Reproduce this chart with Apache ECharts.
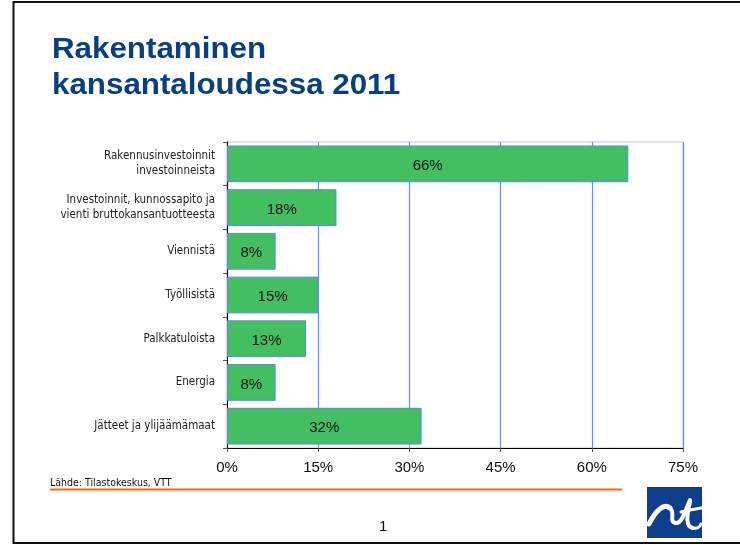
<html>
<head>
<meta charset="UTF-8">
<title>Rakentaminen kansantaloudessa 2011</title>
<script src="https://cdn.jsdelivr.net/npm/echarts@6/dist/echarts.min.js"></script>
<style>
    body{ margin:0; background:#fff; }
    #main{ width:740px; height:545px; }
</style>
</head>
<body>
<div id="main"></div>
<script>
// data
var categories = ['Rakennusinvestoinnit\ninvestoinneista', 'Investoinnit, kunnossapito ja\nvienti bruttokansantuotteesta',
    'Viennistä', 'Työllisistä', 'Palkkatuloista', 'Energia', 'Jätteet ja ylijäämämaat'];
var values = [66, 18, 8, 15, 13, 8, 32];
var xTicks = [0, 15, 30, 45, 60, 75];

var myChart = echarts.init(document.getElementById('main'));

// white strokes of the logo
function curve(x1, y1, c1x, c1y, c2x, c2y, x2, y2, w) {
    return { type: 'bezierCurve',
        shape: { x1: x1, y1: y1, cpx1: c1x, cpy1: c1y, cpx2: c2x, cpy2: c2y, x2: x2, y2: y2 },
        style: { fill: null, stroke: '#fff', lineWidth: w, lineCap: 'round' } };
}

var option = {
    animation: false,
    backgroundColor: '#fff',
    grid: {
        left: 227, right: 57, top: 142, bottom: 97,
        show: true, borderColor: '#c4c4c8', borderWidth: 1
    },
    xAxis: {
        type: 'value',
        min: xTicks[0], max: xTicks[xTicks.length - 1], interval: 15,
        axisLine: { show: true, lineStyle: { color: '#000', width: 1 } },
        axisTick: { show: true, length: 4, lineStyle: { color: '#555' } },
        axisLabel: { formatter: '{value}%', color: '#111', fontSize: 15, fontFamily: 'Liberation Sans', margin: 12 },
        splitLine: { show: true, lineStyle: { color: '#6a8cf0', width: 1, shadowColor: '#b9c9f7', shadowBlur: 3 } }
    },
    yAxis: {
        type: 'category',
        inverse: true,
        data: categories,
        axisLine: { show: true, lineStyle: { color: '#000', width: 1 } },
        axisTick: { show: true, length: 4, lineStyle: { color: '#555' } },
        axisLabel: { color: '#222', fontSize: 11.5, fontFamily: 'DejaVu Sans Condensed', lineHeight: 15, margin: 12 }
    },
    series: [{
        type: 'bar',
        data: values,
        barCategoryGap: '16%',
        itemStyle: { color: '#43bf62', borderColor: '#5a88d8', borderWidth: 1 },
        label: {
            show: true, position: 'inside', formatter: '{c}%', offset: [0, 2],
            color: '#111', fontSize: 15, fontFamily: 'Liberation Sans'
        }
    }],
    graphic: [
        // slide frame
        { type: 'polyline', shape: { points: [[745, 2], [13.5, 2], [13.5, 543], [745, 543]] },
          style: { fill: null, stroke: '#111', lineWidth: 2 } },
        { type: 'text', x: 52, y: 32, scaleX: 1.08,
          style: { text: 'Rakentaminen\nkansantaloudessa 2011', fill: '#073f85',
                   font: 'bold 29px "Liberation Sans"', lineHeight: 36 } },
        { type: 'text', x: 50, y: 478,
          style: { text: 'Lähde: Tilastokeskus, VTT', fill: '#111', font: '10.5px "DejaVu Sans Condensed"' } },
        { type: 'line', shape: { x1: 50, y1: 489.5, x2: 622, y2: 489.5 },
          style: { stroke: '#ff6600', lineWidth: 2 } },
        { type: 'text', x: 379, y: 519,
          style: { text: '1', fill: '#111', font: '15px "Liberation Sans"' } },
        // logo
        { type: 'rect', shape: { x: 647, y: 487, width: 55, height: 51 }, style: { fill: '#0b3f8c' } },
        curve(649, 524, 656, 510, 664, 503, 670, 508, 5),
        curve(670, 508, 676, 513, 668, 522, 676, 523, 4),
        curve(676, 523, 682, 524, 685, 511, 690, 500, 4),
        curve(681, 512, 688, 510, 695, 509, 701, 508, 3),
        curve(690, 502, 687, 514, 685, 527, 693, 528, 4),
        curve(693, 528, 697, 529, 700, 527, 701, 524, 3)
    ]
};
myChart.setOption(option);
</script>
</body>
</html>
